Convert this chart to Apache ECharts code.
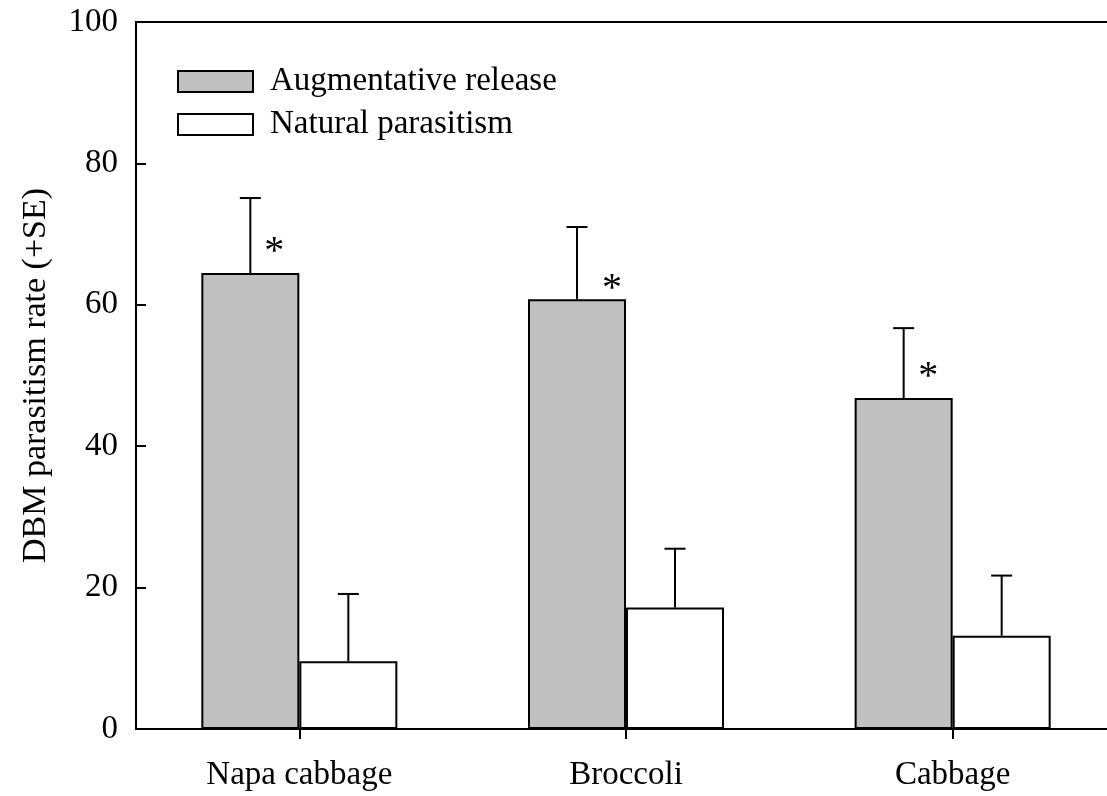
<!DOCTYPE html>
<html>
<head>
<meta charset="utf-8">
<script src="https://cdn.jsdelivr.net/npm/echarts/dist/echarts.min.js"></script>
<style>
html,body{margin:0;padding:0;background:#fff;}
#chart{width:1107px;height:796px;}
</style>
</head>
<body>
<div id="chart"></div>
<script>
// ---- data ----
const categories = ['Napa cabbage', 'Broccoli', 'Cabbage'];
const seriesNames = ['Augmentative release', 'Natural parasitism'];
const augmentative = [64.5, 60.8, 46.8];
const augmentativeSE = [10.6, 10.2, 9.9];
const natural = [9.6, 17.2, 13.2];
const naturalSE = [9.5, 8.3, 8.5];
const significance = ['*', '*', '*'];
const starLevel = [68.5, 63.3, 50.8];
const yMin = 0, yMax = 100, yInterval = 20;
const yAxisTitle = 'DBM parasitism rate (+SE)';

// ---- style ----
const FONT = 'Liberation Serif';
const FS = 33;
const starOffsetsPx = [24, 35, 24.5];

const chart = echarts.init(document.getElementById('chart'), null, {renderer: 'canvas'});

function errorData(means, ses) {
  return means.map((m, i) => [i, m, m + ses[i]]);
}

function makeErrorRender(bandOffset) {
  return function (params, api) {
    const x = api.value(0);
    const base = api.coord([x, api.value(1)]);
    const top = api.coord([x, api.value(2)]);
    const band = api.size([1, 0])[0];
    const cx = base[0] + bandOffset * band;
    const half = 10.5;
    const st = {stroke: '#000', lineWidth: 2};
    return {
      type: 'group',
      children: [
        {type: 'line', shape: {x1: cx, y1: base[1], x2: cx, y2: top[1]}, style: st},
        {type: 'line', shape: {x1: cx - half, y1: top[1], x2: cx + half, y2: top[1]}, style: st}
      ]
    };
  };
}

const option = {
  animation: false,
  backgroundColor: '#fff',
  grid: {
    left: 136, right: -9, top: 22, bottom: 67,
    outerBoundsMode: 'none',
    containLabel: false,
    show: true, borderColor: '#000', borderWidth: 2, backgroundColor: 'transparent'
  },
  legend: {
    data: seriesNames,
    orient: 'vertical',
    left: 172, top: 60,
    padding: 5,
    itemWidth: 75, itemHeight: 21, itemGap: 10,
    icon: 'rect',
    selectedMode: false,
    textStyle: {fontFamily: FONT, fontSize: FS, color: '#000', padding: [0, 0, 0, 12], lineHeight: 33}
  },
  xAxis: {
    type: 'category',
    data: categories,
    boundaryGap: true,
    axisLine: {lineStyle: {color: '#000', width: 2}},
    axisTick: {show: true, alignWithLabel: true, length: 10, inside: false, lineStyle: {color: '#000', width: 2}},
    axisLabel: {fontFamily: FONT, fontSize: FS, color: '#000', margin: 30},
    splitLine: {show: false}
  },
  yAxis: {
    type: 'value',
    min: yMin, max: yMax, interval: yInterval,
    axisLine: {show: true, lineStyle: {color: '#000', width: 2}},
    axisTick: {show: true, inside: true, length: 10, lineStyle: {color: '#000', width: 2}},
    axisLabel: {fontFamily: FONT, fontSize: FS, color: '#000', margin: 18},
    splitLine: {show: false},
    name: yAxisTitle,
    nameLocation: 'middle',
    nameRotate: 90,
    nameGap: 83,
    nameTextStyle: {fontFamily: FONT, fontSize: 34, color: '#000'}
  },
  series: [
    {
      name: seriesNames[0], type: 'bar', data: augmentative,
      barGap: '0%', barCategoryGap: '40%',
      itemStyle: {color: '#c0c0c0', borderColor: '#000', borderWidth: 2}
    },
    {
      name: seriesNames[1], type: 'bar', data: natural,
      barGap: '0%', barCategoryGap: '40%',
      itemStyle: {color: '#fff', borderColor: '#000', borderWidth: 2}
    },
    {
      type: 'custom', name: 'errA', renderItem: makeErrorRender(-0.15),
      data: errorData(augmentative, augmentativeSE), z: 5, silent: true
    },
    {
      type: 'custom', name: 'errN', renderItem: makeErrorRender(0.15),
      data: errorData(natural, naturalSE), z: 5, silent: true
    },
    {
      type: 'custom', name: 'stars', z: 6, silent: true,
      data: starLevel.map((v, i) => [i, v]),
      renderItem: function (params, api) {
        const i = api.value(0);
        const p = api.coord([i, api.value(1)]);
        const band = api.size([1, 0])[0];
        return {
          type: 'text',
          style: {
            text: significance[params.dataIndex],
            x: p[0] - 0.15 * band + starOffsetsPx[params.dataIndex],
            y: p[1] + 8,
            fontFamily: FONT, fontSize: 40, fill: '#000',
            align: 'center', verticalAlign: 'middle'
          }
        };
      }
    }
  ]
};
chart.setOption(option);
</script>
</body>
</html>
